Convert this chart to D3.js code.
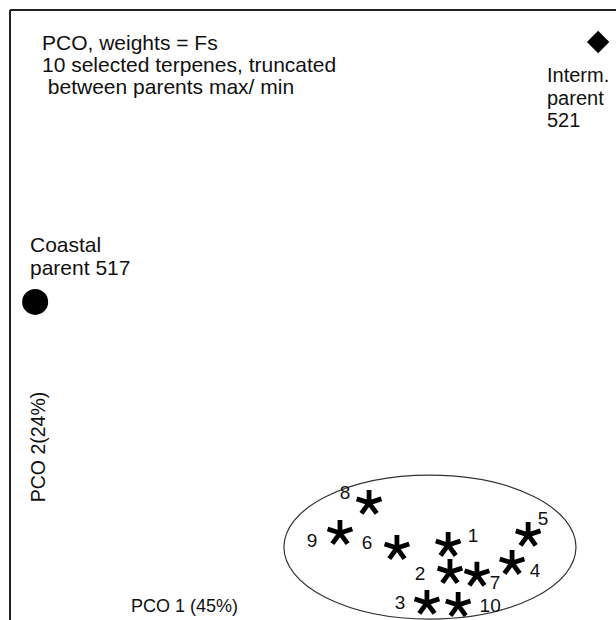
<!DOCTYPE html>
<html>
<head>
<meta charset="utf-8">
<script src="https://cdn.jsdelivr.net/npm/d3@7"></script>
<style>
  body { margin: 0; background: #fff; }
  text { font-family: "Liberation Sans", Arial, sans-serif; fill: #111; }
</style>
</head>
<body>
<svg width="616" height="620"></svg>
<script>
// PCO scores (arbitrary units)
const hybridIds = ["1", "2", "3", "4", "5", "6", "7", "8", "9", "10"];
const hybridPco1 = [0.446, 0.452, 0.376, 0.657, 0.710, 0.277, 0.541, 0.185, 0.089, 0.479];
const hybridPco2 = [-0.754, -0.843, -0.944, -0.813, -0.721, -0.764, -0.852, -0.616, -0.715, -0.951];

const parentNames = ["Coastal parent 517", "Interm. parent 521"];
const parentPco1 = [-0.917, 0.941];
const parentPco2 = [0.043, 0.895];

// cluster ellipse around hybrids: centre and radii in PCO units
const ellipseCentre = [0.386, -0.761];
const ellipseRadii = [0.482, 0.236];

const titleLines = ["PCO, weights = Fs", "10 selected terpenes, truncated", " between parents max/ min"];

const width = 616;
const height = 620;
const frame = 10;

// label offsets (pixels) for the hybrid numbers
const labelOffset = {
  "1": [25, -10], "2": [-30, 1], "3": [-27, -1], "4": [23, 7], "5": [15, -17],
  "6": [-30, -6], "7": [18, 7], "8": [-24, -11], "9": [-28, 7], "10": [32, 0]
};

const svg = d3.select("svg");

const xScale = d3.scaleLinear().domain([-1, 1]).range([frame, width]);
const yScale = d3.scaleLinear().domain([-1, 1]).range([620, 10]);

// frame: top and left edges only
svg.append("line")
    .attr("x1", frame).attr("y1", frame)
    .attr("x2", width).attr("y2", frame)
    .attr("stroke", "#222").attr("stroke-width", 2);
svg.append("line")
    .attr("x1", frame).attr("y1", frame)
    .attr("x2", frame).attr("y2", height)
    .attr("stroke", "#222").attr("stroke-width", 2);

// title block
svg.append("text")
    .attr("x", 42)
    .attr("y", 50)
    .style("font-size", "21px")
    .style("white-space", "pre")
  .selectAll("tspan")
  .data(titleLines)
  .enter()
  .append("tspan")
    .attr("x", 42)
    .attr("dy", (d, i) => i === 0 ? 0 : 22)
    .text(d => d);

// ellipse
svg.append("ellipse")
    .attr("cx", xScale(ellipseCentre[0]))
    .attr("cy", yScale(ellipseCentre[1]))
    .attr("rx", xScale(ellipseRadii[0]) - xScale(0))
    .attr("ry", yScale(0) - yScale(ellipseRadii[1]))
    .attr("fill", "none")
    .attr("stroke", "#333")
    .attr("stroke-width", 1.2);

// five armed asterisk
const arm = 13;
const asterisk = d3.range(5).map(k => {
  const a = -Math.PI / 2 + k * 2 * Math.PI / 5;
  return `M0,0L${(arm * Math.cos(a)).toFixed(2)},${(arm * Math.sin(a)).toFixed(2)}`;
}).join("");

const hybrids = hybridIds.map((id, i) => ({ id, x: hybridPco1[i], y: hybridPco2[i] }));

svg.selectAll("path.hybrid")
  .data(hybrids)
  .enter()
  .append("path")
    .attr("class", "hybrid")
    .attr("d", asterisk)
    .attr("transform", d => `translate(${xScale(d.x)},${yScale(d.y)})`)
    .attr("stroke", "#000")
    .attr("stroke-width", 4.8)
    .attr("stroke-linecap", "butt");

svg.selectAll("text.hybrid")
  .data(hybrids)
  .enter()
  .append("text")
    .attr("class", "hybrid")
    .attr("x", d => xScale(d.x) + labelOffset[d.id][0])
    .attr("y", d => yScale(d.y) + labelOffset[d.id][1])
    .attr("dy", "0.35em")
    .style("text-anchor", "middle")
    .style("font-size", "19px")
    .text(d => d.id);

// coastal parent: filled circle
svg.append("circle")
    .attr("cx", xScale(parentPco1[0]))
    .attr("cy", yScale(parentPco2[0]))
    .attr("r", 13)
    .attr("fill", "#000");

svg.append("text")
    .attr("x", 30)
    .attr("y", 252)
    .style("font-size", "21px")
  .selectAll("tspan")
  .data(["Coastal", "parent 517"])
  .enter()
  .append("tspan")
    .attr("x", 30)
    .attr("dy", (d, i) => i === 0 ? 0 : 23)
    .text(d => d);

// intermediate parent: diamond
svg.append("path")
    .attr("d", d3.symbol().type(d3.symbolSquare).size(250)())
    .attr("transform", `translate(${xScale(parentPco1[1])},${yScale(parentPco2[1])}) rotate(45)`)
    .attr("fill", "#000");

svg.append("text")
    .attr("x", 547)
    .attr("y", 82)
    .style("font-size", "20px")
  .selectAll("tspan")
  .data(["Interm.", "parent", "521"])
  .enter()
  .append("tspan")
    .attr("x", 547)
    .attr("dy", (d, i) => i === 0 ? 0 : 22.5)
    .text(d => d);

// axis labels
svg.append("text")
    .text("PCO 1 (45%)")
    .attr("x", 131)
    .attr("y", 612)
    .style("font-size", "18px");

svg.append("text")
    .text("PCO 2(24%)")
    .attr("transform", "translate(45,447) rotate(-90)")
    .style("text-anchor", "middle")
    .style("font-size", "19.5px");
</script>
</body>
</html>
